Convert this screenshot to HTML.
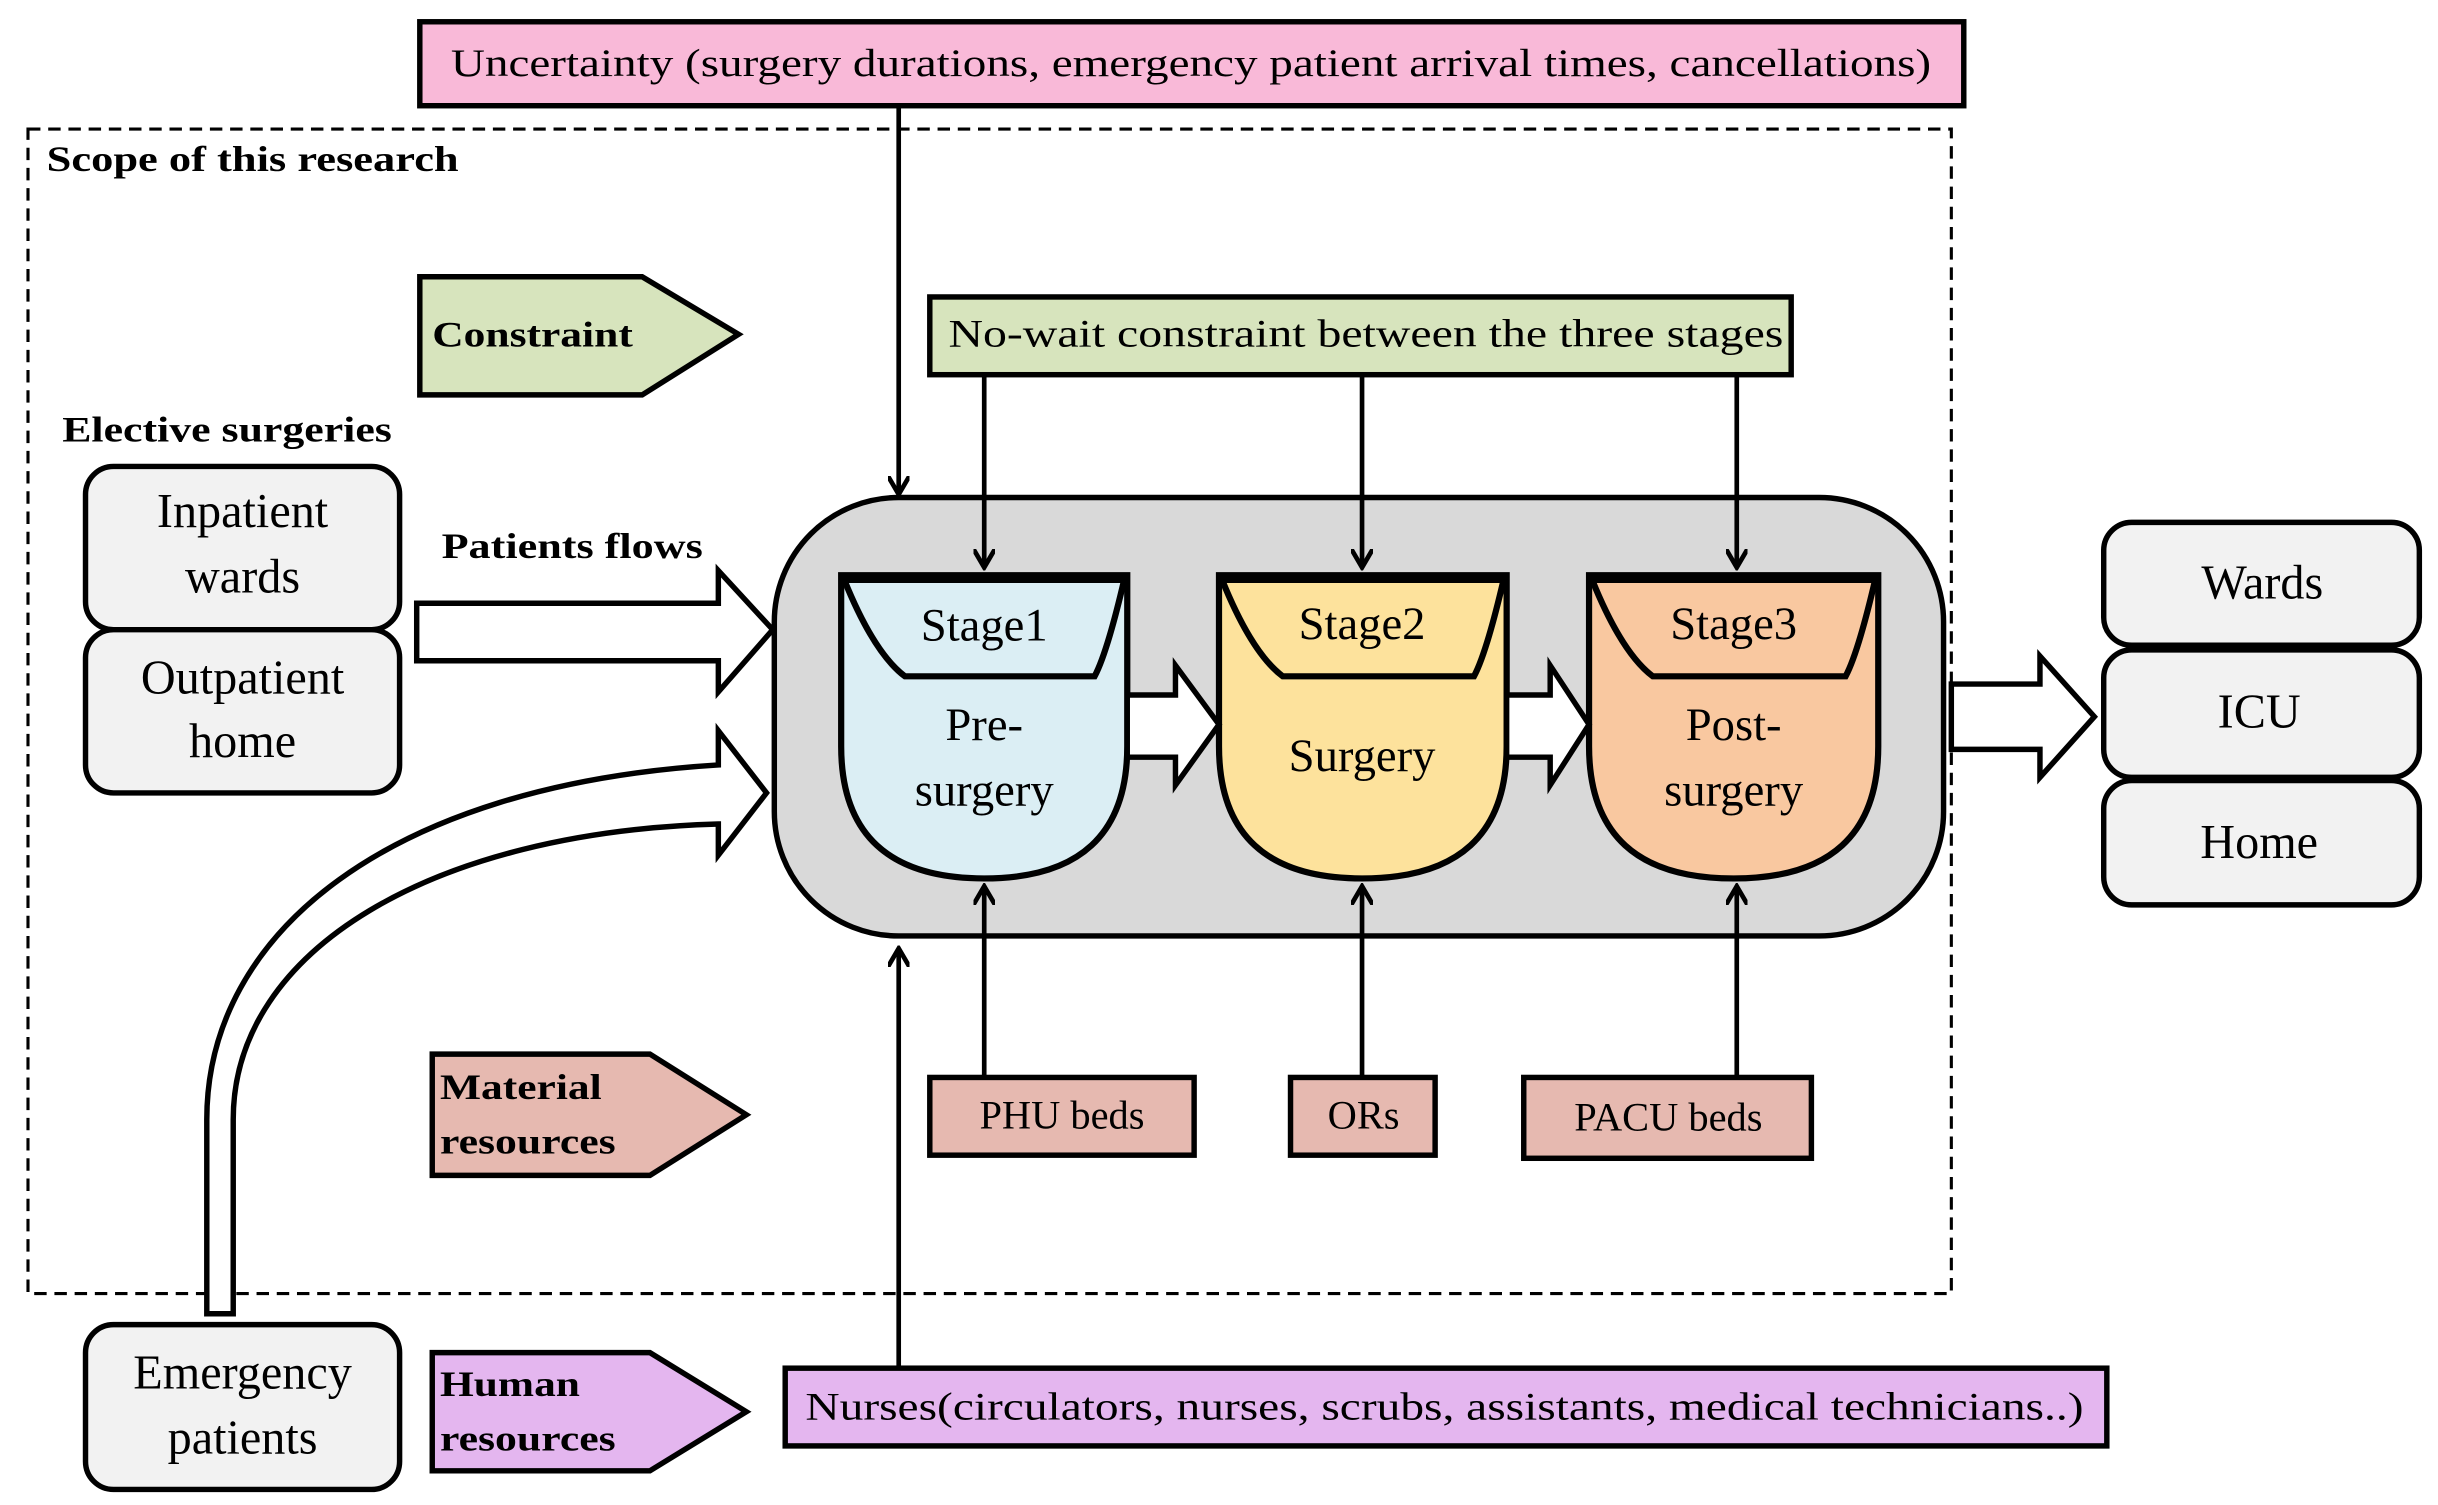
<!DOCTYPE html>
<html><head><meta charset="utf-8"><style>
html,body{margin:0;padding:0;background:#fff;width:2438px;height:1505px;overflow:hidden}
svg{display:block}
text{font-family:"Liberation Serif",serif;fill:#000}
.b{font-weight:bold}
</style></head><body>
<svg width="2438" height="1505" viewBox="0 0 1568 968" preserveAspectRatio="none">
<defs>
<marker id="ah" markerWidth="14" markerHeight="14" refX="12" refY="7" orient="auto" markerUnits="userSpaceOnUse">
<path d="M0,0 L12,7 L0,14" fill="none" stroke="#000" stroke-width="3"/>
</marker>
</defs>
<rect x="18" y="83" width="1237" height="749" fill="none" stroke="#000" stroke-width="2" stroke-dasharray="8,5"/>
<text x="30" y="110" font-size="23" class="b" textLength="265" lengthAdjust="spacingAndGlyphs">Scope of this research</text>
<rect x="270" y="14" width="993" height="54" fill="#f9b9d8" stroke="#000" stroke-width="3.5"/>
<text x="290" y="49" font-size="25" textLength="952" lengthAdjust="spacingAndGlyphs">Uncertainty (surgery durations, emergency patient arrival times, cancellations)</text>
<rect x="498" y="320" width="752" height="282" rx="80" fill="#d9d9d9" stroke="#000" stroke-width="3.5"/>
<g stroke="#000" stroke-width="3" marker-end="url(#ah)">
<line x1="578" y1="68" x2="578" y2="318"/>
<line x1="633" y1="241" x2="633" y2="365"/>
<line x1="876" y1="241" x2="876" y2="365"/>
<line x1="1117" y1="241" x2="1117" y2="365"/>
<line x1="633" y1="693" x2="633" y2="570"/>
<line x1="876" y1="693" x2="876" y2="570"/>
<line x1="1117" y1="693" x2="1117" y2="570"/>
<line x1="578" y1="880" x2="578" y2="610"/>
</g>
<path d="M270,178 L413,178 L475,215 L413,254 L270,254 Z" fill="#d7e4bd" stroke="#000" stroke-width="3.5"/>
<text x="278" y="223" font-size="23" class="b" textLength="129" lengthAdjust="spacingAndGlyphs">Constraint</text>
<rect x="598" y="191" width="554" height="50" fill="#d7e4bd" stroke="#000" stroke-width="3.5"/>
<text x="610" y="223" font-size="25" textLength="537" lengthAdjust="spacingAndGlyphs">No-wait constraint between the three stages</text>
<g stroke="#000" stroke-width="4">
<path d="M541,370 L725,370 L725,480 Q725,565 633,565 Q541,565 541,480 Z" fill="#dbeef4"/>
<path d="M543,373 L723,373 Q712,420 704,435 L582,435 Q562,420 543,373 Z" fill="#dbeef4"/>
<path d="M784,370 L969,370 L969,480 Q969,565 876,565 Q784,565 784,480 Z" fill="#fde29c"/>
<path d="M786,373 L967,373 Q956,420 948,435 L825,435 Q805,420 786,373 Z" fill="#fde29c"/>
<path d="M1022,370 L1208,370 L1208,480 Q1208,565 1115,565 Q1022,565 1022,480 Z" fill="#f9c8a0"/>
<path d="M1024,373 L1206,373 Q1195,420 1187,435 L1063,435 Q1043,420 1024,373 Z" fill="#f9c8a0"/>
</g>
<g font-size="30" text-anchor="middle">
<text x="633" y="412">Stage1</text>
<text x="633" y="476">Pre-</text>
<text x="633" y="518">surgery</text>
<text x="876" y="411">Stage2</text>
<text x="876" y="496">Surgery</text>
<text x="1115" y="411">Stage3</text>
<text x="1115" y="476">Post-</text>
<text x="1115" y="518">surgery</text>
</g>
<g fill="#fff" stroke="#000" stroke-width="3.5">
<path d="M725,447 L756,447 L756,428 L784,466 L756,505 L756,487 L725,487 Z"/>
<path d="M969,447 L997,447 L997,428 L1022,466 L997,505 L997,487 L969,487 Z"/>
<path d="M1255,440 L1312,440 L1312,422 L1347,461 L1312,500 L1312,482 L1255,482 Z"/>
<path d="M268,388 L462,388 L462,367 L497,405 L462,445 L462,425 L268,425 Z"/>
<path d="M133,845 L133,720 C133,600 250,505 462,492 L462,470 L493,510 L462,550 L462,530 C280,535 150,610 150,720 L150,845 Z"/>
</g>
<text x="40" y="284" font-size="23" class="b" textLength="212" lengthAdjust="spacingAndGlyphs">Elective surgeries</text>
<text x="284" y="359" font-size="23" class="b" textLength="168" lengthAdjust="spacingAndGlyphs">Patients flows</text>
<g fill="#f2f2f2" stroke="#000" stroke-width="3.5">
<rect x="55" y="300" width="202" height="105" rx="18"/>
<rect x="55" y="405" width="202" height="105" rx="18"/>
<rect x="55" y="852" width="202" height="106" rx="18"/>
<rect x="1353" y="336" width="203" height="79" rx="18"/>
<rect x="1353" y="418" width="203" height="82" rx="18"/>
<rect x="1353" y="502" width="203" height="80" rx="18"/>
</g>
<g font-size="31" text-anchor="middle">
<text x="156" y="339">Inpatient</text>
<text x="156" y="381">wards</text>
<text x="156" y="446">Outpatient</text>
<text x="156" y="487">home</text>
<text x="156" y="893">Emergency</text>
<text x="156" y="935">patients</text>
<text x="1455" y="385">Wards</text>
<text x="1453" y="468">ICU</text>
<text x="1453" y="552">Home</text>
</g>
<path d="M278,678 L418,678 L480,717 L418,756 L278,756 Z" fill="#e6b9b0" stroke="#000" stroke-width="3.5"/>
<text x="283" y="707" font-size="23" class="b" textLength="104" lengthAdjust="spacingAndGlyphs">Material</text>
<text x="283" y="742" font-size="23" class="b" textLength="113" lengthAdjust="spacingAndGlyphs">resources</text>
<g fill="#e6b9b0" stroke="#000" stroke-width="3.5">
<rect x="598" y="693" width="170" height="50"/>
<rect x="830" y="693" width="93" height="50"/>
<rect x="980" y="693" width="185" height="52"/>
</g>
<g font-size="26" text-anchor="middle">
<text x="683" y="726">PHU beds</text>
<text x="877" y="726">ORs</text>
<text x="1073" y="727">PACU beds</text>
</g>
<path d="M278,870 L418,870 L480,908 L418,946 L278,946 Z" fill="#e4b6ef" stroke="#000" stroke-width="3.5"/>
<text x="283" y="898" font-size="23" class="b" textLength="90" lengthAdjust="spacingAndGlyphs">Human</text>
<text x="283" y="933" font-size="23" class="b" textLength="113" lengthAdjust="spacingAndGlyphs">resources</text>
<rect x="505" y="880" width="850" height="50" fill="#e4b6ef" stroke="#000" stroke-width="3.5"/>
<text x="518" y="913" font-size="25" textLength="822" lengthAdjust="spacingAndGlyphs">Nurses(circulators, nurses, scrubs, assistants, medical technicians..)</text>
</svg>
</body></html>
